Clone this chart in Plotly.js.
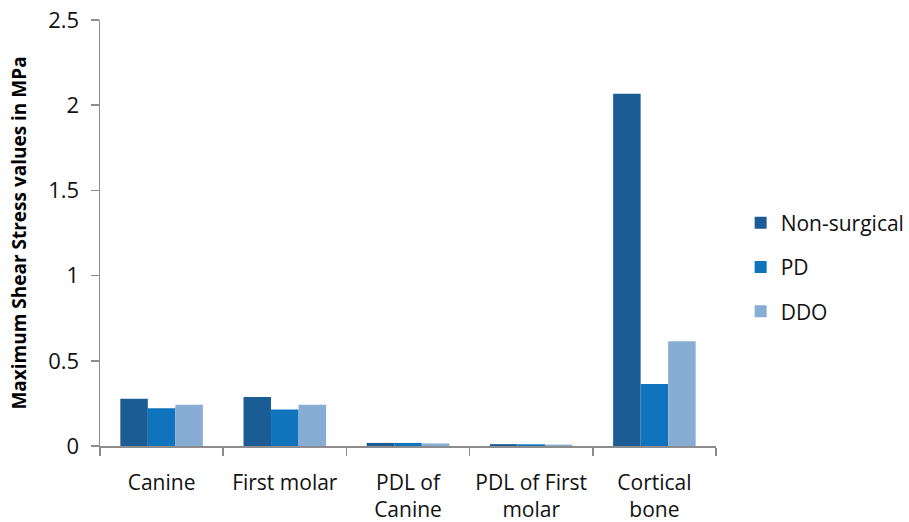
<!DOCTYPE html>
<html>
<head>
<meta charset="utf-8">
<script src="https://cdn.plot.ly/plotly-3.0.1.min.js"></script>
<style>html,body{margin:0;padding:0;background:#fff;}#chart{width:909px;height:522px;}</style>
</head>
<body>
<div id="chart"></div>
<script>
const categories = ["Canine", "First molar", "PDL of<br>Canine", "PDL of First<br>molar", "Cortical<br>bone"];
const seriesNames = ["Non-surgical", "PD", "DDO"];
const nonSurgical = [0.278, 0.288, 0.018, 0.011, 2.067];
const pd = [0.222, 0.214, 0.018, 0.010, 0.364];
const ddo = [0.242, 0.242, 0.015, 0.008, 0.614];
const colors = ["#1B5C94", "#0F74BB", "#88ADD5"];
const yTicks = [0, 0.5, 1, 1.5, 2, 2.5];
const yTickText = ["0", "0.5", "1", "1.5", "2", "2.5"];

const values = [nonSurgical, pd, ddo];
const traces = values.map((v, i) => ({
  type: "bar",
  name: seriesNames[i],
  x: categories,
  y: v,
  legendgroup: "g" + i,
  marker: {color: colors[i], line: {width: 0}}
}));

const font = "'Open Sans', 'DejaVu Sans', sans-serif";
const layout = {
  width: 909, height: 522,
  margin: {l: 100, r: 193, t: 20, b: 76, autoexpand: false},
  paper_bgcolor: "#fff", plot_bgcolor: "#fff",
  barmode: "group",
  bargap: 0.33, bargroupgap: 0,
  font: {family: font, color: "#111", size: 21},
  xaxis: {
    showline: true, linecolor: "#8c8c8c", linewidth: 1.5,
    ticks: "outside", tickson: "boundaries", ticklen: 8, tickcolor: "#8c8c8c", tickwidth: 1.5,
    ticklabelstandoff: 17, tickangle: 0,
    tickfont: {size: 21, family: font, color: "#111"},
    showgrid: false, zeroline: false, fixedrange: true
  },
  yaxis: {
    range: [0, 2.5],
    tickvals: yTicks, ticktext: yTickText,
    showline: true, linecolor: "#8c8c8c", linewidth: 1.5,
    ticks: "outside", ticklen: 8, tickcolor: "#8c8c8c", tickwidth: 1.5,
    ticklabelstandoff: 7,
    tickfont: {size: 22, family: font, color: "#111"},
    showgrid: false, zeroline: false,
    title: {text: "Maximum Shear Stress values in MPa", font: {size: 19, family: font, color: "#000", weight: "bold"}, standoff: 16}
  },
  showlegend: true,
  legend: {
    x: 1.04, xanchor: "left", y: 0.42, yanchor: "middle",
    traceorder: "grouped", tracegroupgap: 14,
    font: {size: 21, family: font, color: "#111"},
    bgcolor: "rgba(0,0,0,0)"
  }
};

Plotly.newPlot("chart", traces, layout, {displayModeBar: false, staticPlot: true});
</script>
</body>
</html>
